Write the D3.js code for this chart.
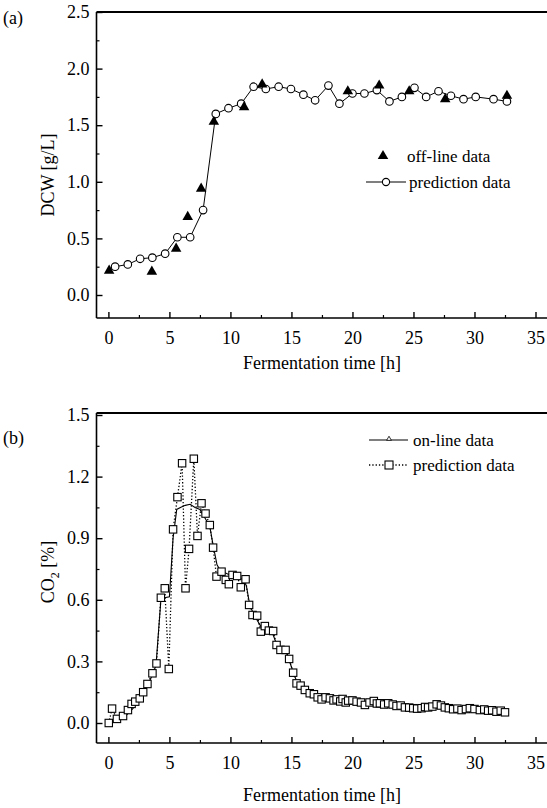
<!DOCTYPE html>
<html><head><meta charset="utf-8">
<script src="https://cdn.jsdelivr.net/npm/d3@7"></script>
<style>
html,body{margin:0;padding:0;background:#fff;}
svg text{font-family:'Liberation Serif','DejaVu Serif','Times New Roman',Times,serif !important;fill:#000;}
</style></head>
<body><svg id="c" width="547" height="808"></svg>
<script>
// ---- Panel (a): DCW ----
const dcwPredT = [0.55,1.59,2.6,3.6,4.65,5.65,6.7,7.76,8.8,9.84,10.88,11.9,12.9,13.95,14.96,15.98,16.94,18.03,18.93,20.0,20.98,22.0,23.03,24.05,25.08,26.04,27.05,28.07,29.1,30.1,31.56,32.66];
const dcwPredV = [0.25,0.27,0.32,0.33,0.365,0.51,0.51,0.75,1.6,1.65,1.69,1.84,1.82,1.84,1.82,1.77,1.72,1.85,1.69,1.78,1.78,1.81,1.71,1.75,1.83,1.75,1.80,1.76,1.73,1.75,1.73,1.71];
const dcwOffT = [0.06,3.56,5.55,6.5,7.6,8.64,11.12,12.6,19.62,22.19,24.65,27.6,32.66];
const dcwOffV = [0.215,0.206,0.41,0.69,0.94,1.53,1.66,1.86,1.80,1.85,1.80,1.73,1.76];
const dcwTicks = [0.0,0.5,1.0,1.5,2.0,2.5];
const dcwMinor = [0.25,0.75,1.25,1.75,2.25];

// ---- Panel (b): CO2 ----
const co2PredT = [0.03,0.3,0.7,1.2,1.6,1.9,2.2,2.57,2.85,3.2,3.61,3.94,4.3,4.62,4.95,5.3,5.66,6.04,6.32,6.61,7.0,7.3,7.63,7.96,8.31,8.58,8.86,9.27,9.62,9.87,10.17,10.55,10.85,11.24,11.53,11.81,12.19,12.49,12.82,13.15,13.5,13.78,14.1,14.52,14.81,15.14,15.42,15.75,16.1,16.5,16.84,17.15,17.47,17.8,18.15,18.45,18.7,19.0,19.19,19.45,19.65,20.0,20.34,20.7,21.02,21.4,21.75,22.0,22.25,22.6,22.93,23.3,23.61,23.95,24.3,24.65,24.98,25.3,25.66,25.95,26.2,26.55,26.9,27.25,27.57,27.9,28.25,28.6,28.94,29.3,29.62,30.0,30.44,30.8,31.12,31.45,31.8,32.15,32.5];
const co2PredV = [0.0,0.07,0.02,0.034,0.063,0.093,0.104,0.12,0.15,0.19,0.242,0.29,0.61,0.656,0.263,0.943,1.10,1.265,0.656,0.848,1.287,0.911,1.07,1.02,0.964,0.854,0.713,0.737,0.697,0.676,0.721,0.716,0.661,0.70,0.575,0.526,0.523,0.445,0.472,0.45,0.448,0.38,0.356,0.356,0.312,0.245,0.193,0.182,0.161,0.145,0.14,0.125,0.115,0.125,0.12,0.11,0.115,0.105,0.117,0.1,0.109,0.11,0.104,0.1,0.088,0.1,0.107,0.095,0.096,0.09,0.096,0.09,0.083,0.085,0.076,0.075,0.072,0.07,0.072,0.078,0.076,0.08,0.091,0.085,0.076,0.072,0.067,0.07,0.063,0.068,0.072,0.068,0.063,0.066,0.06,0.062,0.055,0.06,0.052];
const co2OnT = [0,0.5,1.0,1.5,2.0,2.5,3.0,3.5,3.9,4.3,4.6,5.0,5.3,5.6,5.9,6.3,6.7,7.1,7.5,7.9,8.3,8.6,8.9,9.2,9.6,10.0,10.5,11.0,11.3,11.6,12.0,12.5,13.0,13.5,13.8,14.2,14.6,14.9,15.2,15.5,15.9,16.4,17.0,17.5,18.5,19.5,20.5,21.5,22.5,23.5,24.5,25.5,26.5,27.0,28.0,29.0,30.0,31.0,32.0,32.5];
const co2OnV = [0.0,0.01,0.02,0.04,0.07,0.11,0.16,0.22,0.28,0.6,0.61,0.615,0.9,1.04,1.05,1.06,1.065,1.05,1.04,1.0,0.96,0.86,0.77,0.74,0.73,0.72,0.71,0.70,0.67,0.57,0.52,0.47,0.45,0.43,0.38,0.35,0.34,0.29,0.24,0.19,0.165,0.145,0.13,0.12,0.115,0.11,0.1,0.1,0.095,0.085,0.075,0.072,0.08,0.085,0.07,0.065,0.065,0.06,0.057,0.052];
const co2Ticks = [0.0,0.3,0.6,0.9,1.2,1.5];
const co2Minor = [0.15,0.45,0.75,1.05,1.35];

const timeTicks = [0,5,10,15,20,25,30,35];
const timeMinor = [2.5,7.5,12.5,17.5,22.5,27.5,32.5];

const FONT = "'Liberation Serif','DejaVu Serif','Times New Roman',serif";
const svg = d3.select("#c");
const x = d3.scaleLinear().domain([0,35]).range([108.4,535.5]);
const FS = 18;

function panel(cfg){
  const g = svg.append("g").attr("font-family",FONT);
  const y = cfg.y;
  const L = 96.5, R = 548;
  g.append("line").attr("x1",L).attr("x2",R).attr("y1",cfg.top).attr("y2",cfg.top).attr("stroke","#000").attr("stroke-width",2);
  g.append("line").attr("x1",L).attr("x2",L).attr("y1",cfg.top).attr("y2",cfg.bottom).attr("stroke","#000").attr("stroke-width",1.6);
  g.append("line").attr("x1",L).attr("x2",R).attr("y1",cfg.bottom).attr("y2",cfg.bottom).attr("stroke","#000").attr("stroke-width",1.6);
  const xa = g.append("g").attr("transform",`translate(0,${cfg.bottom})`)
    .call(d3.axisBottom(x).tickValues(timeTicks).tickSize(-6).tickPadding(13).tickFormat(d3.format("d")));
  xa.attr("font-family",FONT).attr("font-size",FS);
  xa.select(".domain").remove();
  xa.selectAll("line").attr("stroke-width",1.4);
  const xm = g.append("g").attr("transform",`translate(0,${cfg.bottom})`)
    .call(d3.axisBottom(x).tickValues(timeMinor).tickSize(-3).tickFormat(""));
  xm.select(".domain").remove();
  xm.selectAll("line").attr("stroke-width",1.2);
  const ya = g.append("g").attr("transform",`translate(${L},0)`)
    .call(d3.axisLeft(y).tickValues(cfg.ticks).tickSize(-6).tickPadding(7).tickFormat(d3.format(".1f")));
  ya.attr("font-family",FONT).attr("font-size",FS);
  ya.select(".domain").remove();
  ya.selectAll("line").attr("stroke-width",1.4);
  const ym = g.append("g").attr("transform",`translate(${L},0)`)
    .call(d3.axisLeft(y).tickValues(cfg.minor).tickSize(-3).tickFormat(""));
  ym.select(".domain").remove();
  ym.selectAll("line").attr("stroke-width",1.2);
  g.append("text").attr("x",322).attr("y",cfg.xTitleY).attr("text-anchor","middle").attr("font-size",FS).text("Fermentation time [h]");
  g.append("text").attr("x",3).attr("y",cfg.panelY).attr("font-size",FS).text(cfg.panel);
  return g;
}

// ---- (a)
const yA = d3.scaleLinear().domain([0,2.5]).range([295,12]);
const gA = panel({y:yA, top:12, bottom:318, ticks:dcwTicks, minor:dcwMinor, xTitleY:369, panel:"(a)", panelY:24});
gA.append("text").attr("transform","translate(54,175) rotate(-90)").attr("text-anchor","middle").attr("font-size",FS).text("DCW [g/L]");

const predA = dcwPredT.map((t,i)=>[t,dcwPredV[i]]);
gA.append("path").datum(predA).attr("fill","none").attr("stroke","#000").attr("stroke-width",1)
  .attr("d",d3.line().x(d=>x(d[0])).y(d=>yA(d[1])));
gA.selectAll("circle.p").data(predA).join("circle").attr("class","p")
  .attr("cx",d=>x(d[0])).attr("cy",d=>yA(d[1])).attr("r",3.8)
  .attr("fill","#fff").attr("stroke","#000").attr("stroke-width",1.1);
const tri = d3.symbol().type(d3.symbolTriangle).size(48);
const offA = dcwOffT.map((t,i)=>[t,dcwOffV[i]]);
gA.selectAll("path.o").data(offA).join("path").attr("class","o")
  .attr("transform",d=>`translate(${x(d[0])},${yA(d[1])})`).attr("d",tri).attr("fill","#000");
gA.append("path").attr("transform","translate(383,156)").attr("d",tri).attr("fill","#000");
gA.append("text").attr("x",407).attr("y",162).attr("font-size",17).text("off-line data");
gA.append("line").attr("x1",366).attr("x2",406).attr("y1",182).attr("y2",182).attr("stroke","#000").attr("stroke-width",1.2);
gA.append("circle").attr("cx",386).attr("cy",182).attr("r",3.6).attr("fill","#fff").attr("stroke","#000").attr("stroke-width",1.1);
gA.append("text").attr("x",409).attr("y",188).attr("font-size",17).text("prediction data");

// ---- (b)
const yB = d3.scaleLinear().domain([0,1.5]).range([723,415]);
const gB = panel({y:yB, top:413, bottom:743, ticks:co2Ticks, minor:co2Minor, xTitleY:801, panel:"(b)", panelY:444});
const co2Label = gB.append("text").attr("transform","translate(54,572) rotate(-90)").attr("text-anchor","middle").attr("font-size",FS);
co2Label.append("tspan").text("CO");
co2Label.append("tspan").attr("font-size",12).attr("dy",5).text("2");
co2Label.append("tspan").attr("dy",-5).text(" [%]");

const onB = co2OnT.map((t,i)=>[t,co2OnV[i]]);
const predB = co2PredT.map((t,i)=>[t,co2PredV[i]]);
gB.append("path").datum(predB).attr("fill","none").attr("stroke","#000").attr("stroke-width",1.3)
  .attr("stroke-dasharray","1.3,2").attr("d",d3.line().x(d=>x(d[0])).y(d=>yB(d[1])));
gB.append("path").datum(onB).attr("fill","none").attr("stroke","#000").attr("stroke-width",1.1)
  .attr("d",d3.line().x(d=>x(d[0])).y(d=>yB(d[1])));
gB.selectAll("rect.s").data(predB).join("rect").attr("class","s")
  .attr("x",d=>x(d[0])-3.7).attr("y",d=>yB(d[1])-3.7).attr("width",7.4).attr("height",7.4)
  .attr("fill","#fff").attr("stroke","#000").attr("stroke-width",1.1);
gB.append("line").attr("x1",369).attr("x2",408).attr("y1",440).attr("y2",440).attr("stroke","#000").attr("stroke-width",1.2);
gB.append("path").attr("transform","translate(389,439)").attr("d",d3.symbol().type(d3.symbolTriangle).size(10)).attr("fill","#fff").attr("stroke","#000").attr("stroke-width",0.8);
gB.append("text").attr("x",413).attr("y",446).attr("font-size",17).text("on-line data");
gB.append("line").attr("x1",369).attr("x2",408).attr("y1",465).attr("y2",465).attr("stroke","#000").attr("stroke-width",1.3).attr("stroke-dasharray","1.3,2");
gB.append("rect").attr("x",385).attr("y",461).attr("width",8).attr("height",8).attr("fill","#fff").attr("stroke","#000").attr("stroke-width",1.1);
gB.append("text").attr("x",413).attr("y",471).attr("font-size",17).text("prediction data");
</script></body></html>
